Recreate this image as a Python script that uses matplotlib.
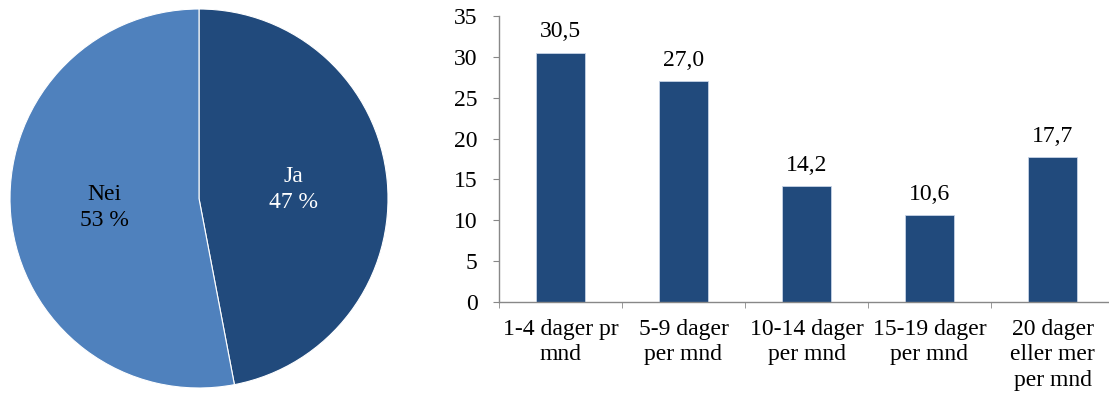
import numpy as np
import matplotlib
matplotlib.use("Agg")
import matplotlib.pyplot as plt
from matplotlib.ticker import FixedLocator

plt.rcParams['font.family'] = ['Liberation Serif', 'DejaVu Serif']

# Pie data
pie_labels = ["Ja", "Nei"]
pie_values = [47, 53]
pie_colors = ["#214a7c", "#4f81bd"]
pie_text_colors = ["white", "black"]

# Bar data
categories = ["1-4 dager pr\nmnd", "5-9 dager\nper mnd", "10-14 dager\nper mnd",
              "15-19 dager\nper mnd", "20 dager\neller mer\nper mnd"]
values = [30.5, 27.0, 14.2, 10.6, 17.7]
bar_color = "#214a7c"

FS = 17
W, H = 1109, 398
fig = plt.figure(figsize=(W / 100, H / 100), dpi=100)

# --- Pie ---
ax_pie = fig.add_axes([10 / W, (H - 388) / H, 378 / W, 379 / H])
wedges, _ = ax_pie.pie(pie_values, colors=pie_colors, startangle=90, counterclock=False,
                       wedgeprops=dict(edgecolor="white", linewidth=0.8))
ax_pie.set_xlim(-1.0, 1.0)
ax_pie.set_ylim(-1.0, 1.0)
ax_pie.set_aspect("auto")
for w, lab, val, tc in zip(wedges, pie_labels, pie_values, pie_text_colors):
    mid = np.deg2rad((w.theta1 + w.theta2) / 2)
    r = 0.5
    ax_pie.text(r * np.cos(mid), r * np.sin(mid), f"{lab}\n{val} %",
                ha="center", va="center", color=tc, fontsize=FS, linespacing=1.3)

# --- Bars ---
ax = fig.add_axes([499 / W, (H - 302) / H, 615 / W, 286 / H])
x = np.arange(len(values))
ax.bar(x, values, width=0.4, color=bar_color, edgecolor="#c7d3e6", linewidth=0.6)
for xi, v in zip(x, values):
    ax.annotate(f"{v:.1f}".replace(".", ","), (xi, v), xytext=(0, 11),
                textcoords="offset points", ha="center", va="baseline", fontsize=FS)

ax.set_xlim(-0.5, len(values) - 0.5)
ax.set_ylim(0, 35)
ax.set_yticks(np.arange(0, 36, 5))
ax.set_xticks(x)
ax.set_xticklabels(categories, fontsize=FS, linespacing=1.3, va="top")
ax.xaxis.set_minor_locator(FixedLocator(np.arange(-0.5, len(values), 1.0)))
ax.tick_params(axis="x", which="major", length=0, pad=12)
ax.tick_params(axis="x", which="minor", length=4.5, color="#888888", direction="out")
ax.tick_params(axis="y", length=4.5, color="#888888", labelsize=FS, pad=11)
for s in ["top", "right"]:
    ax.spines[s].set_visible(False)
for s in ["left", "bottom"]:
    ax.spines[s].set_color("#888888")
    ax.spines[s].set_linewidth(1.0)

fig.savefig("out.png", dpi=100)
